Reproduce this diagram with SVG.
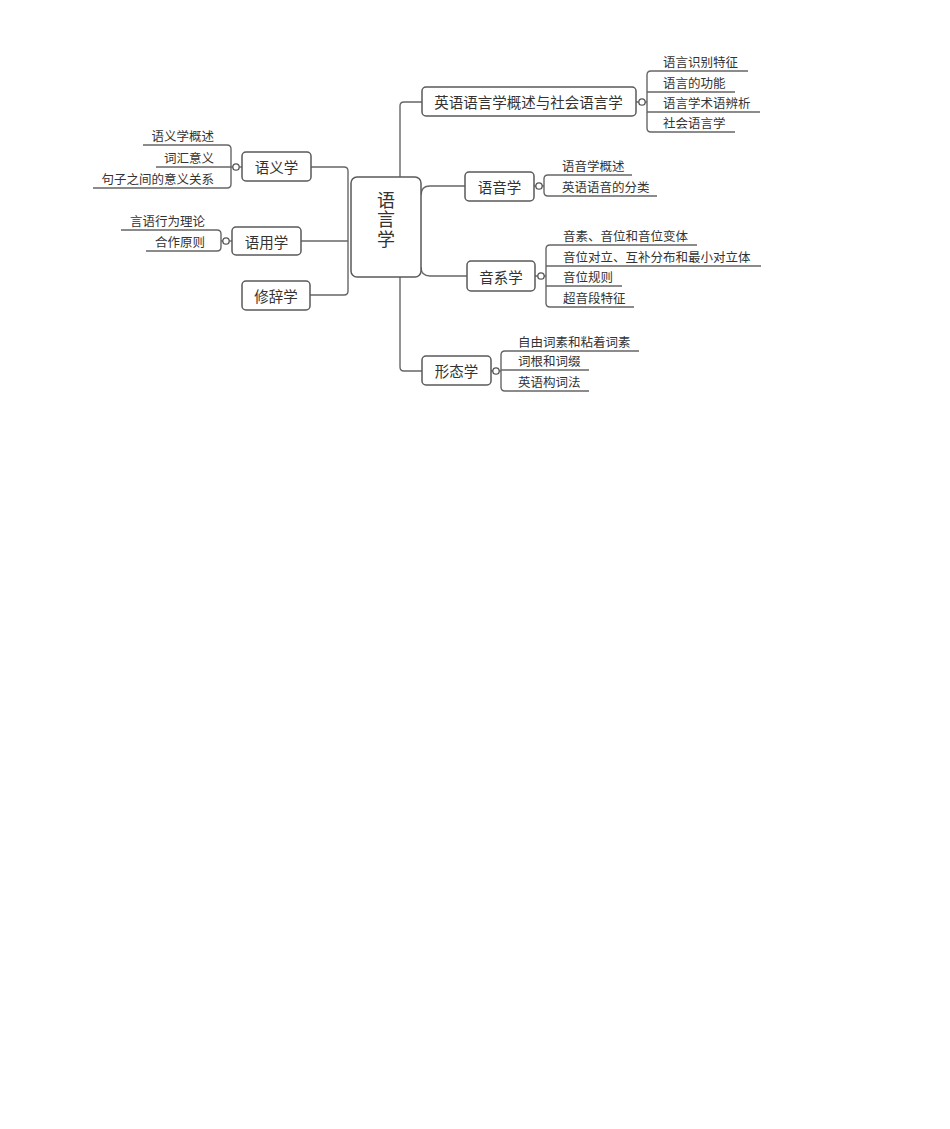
<svg xmlns="http://www.w3.org/2000/svg" width="950" height="1129" viewBox="0 0 950 1129">
<style>
.box{fill:#fff;stroke:#5a5a5a;stroke-width:1.5}
.ln{fill:none;stroke:#666;stroke-width:1.4}
.dot{fill:#fff;stroke:#555;stroke-width:1.3}
.nt{font-family:"Noto Sans CJK SC","Noto Sans CJK JP",sans-serif;font-size:14.5px;fill:#333;text-anchor:middle;dominant-baseline:central}
.ct{font-family:"Noto Sans CJK SC","Noto Sans CJK JP",sans-serif;font-size:18px;fill:#333;text-anchor:middle;writing-mode:vertical-rl;letter-spacing:1.5px}
.lt{font-family:"Noto Sans CJK SC","Noto Sans CJK JP",sans-serif;font-size:12.5px;fill:#333}
.r{text-anchor:end}
</style>
<rect width="950" height="1129" fill="#fff"/>
<g id="connectors">
  <path class="ln" d="M311,167 H344 Q348,167 348,171 V291 Q348,295 344,295 H310"/>
  <path class="ln" d="M301,241 H348"/>
  <path class="ln" d="M422,102 H404 Q400,102 400,106 V367 Q400,371 404,371 H422"/>
  <path class="ln" d="M421,195 Q421,186 430,186 H465"/>
  <path class="ln" d="M421,267 Q421,276 430,276 H467"/>
  <path class="ln" d="M143,145 H227 Q231,145 231,149 V184 Q231,188 227,188 H93"/>
  <path class="ln" d="M156,167 H232.8"/>
  <path class="ln" d="M239.2,167 H242"/>
  <path class="ln" d="M121,230 H217 Q221,230 221,234 V247 Q221,251 217,251 H146"/>
  <path class="ln" d="M221,241 H222.8"/>
  <path class="ln" d="M229.2,241 H232"/>
  <path class="ln" d="M748,71 H651 Q647,71 647,75 V128 Q647,132 651,132 H735"/>
  <path class="ln" d="M647,92 H735 M647,112 H760"/>
  <path class="ln" d="M636,102 H638.8 M645.2,102 H647"/>
  <path class="ln" d="M632,175 H548 Q544,175 544,179 V192 Q544,196 548,196 H657"/>
  <path class="ln" d="M534,186 H535.8 M542.2,186 H544"/>
  <path class="ln" d="M697,245 H550 Q546,245 546,249 V303 Q546,307 550,307 H634"/>
  <path class="ln" d="M546,266 H761 M546,286 H622"/>
  <path class="ln" d="M535,276 H537.8 M544.2,276 H546"/>
  <path class="ln" d="M639,351 H505 Q501,351 501,355 V387 Q501,391 505,391 H589"/>
  <path class="ln" d="M501,370 H589"/>
  <path class="ln" d="M491,371 H492.8 M499.2,371 H501"/>
  <circle class="dot" cx="236" cy="167" r="3.2"/>
  <circle class="dot" cx="226" cy="241" r="3.2"/>
  <circle class="dot" cx="642" cy="102" r="3.2"/>
  <circle class="dot" cx="539" cy="186" r="3.2"/>
  <circle class="dot" cx="541" cy="276" r="3.2"/>
  <circle class="dot" cx="496" cy="371" r="3.2"/>
</g>
<g id="root">
  <rect class="box" x="351" y="177" width="70" height="100" rx="6"/>
  <text class="ct" x="386" y="220">语言学</text>
</g>
<g id="n-overview">
  <rect class="box" x="422" y="87" width="214" height="29" rx="4"/>
  <text class="nt" x="528.5" y="101.5">英语语言学概述与社会语言学</text>
</g>
<g id="n-phonetics">
  <rect class="box" x="465" y="172" width="69" height="29" rx="4"/>
  <text class="nt" x="499.5" y="186.5">语音学</text>
</g>
<g id="n-phonology">
  <rect class="box" x="467" y="261" width="68" height="30" rx="4"/>
  <text class="nt" x="501" y="276">音系学</text>
</g>
<g id="n-morphology">
  <rect class="box" x="422" y="356" width="69" height="29" rx="4"/>
  <text class="nt" x="456.5" y="370.5">形态学</text>
</g>
<g id="n-semantics">
  <rect class="box" x="242" y="152" width="69" height="29" rx="4"/>
  <text class="nt" x="276.5" y="166.5">语义学</text>
</g>
<g id="n-pragmatics">
  <rect class="box" x="232" y="227" width="69" height="28" rx="4"/>
  <text class="nt" x="266.5" y="241">语用学</text>
</g>
<g id="n-rhetoric">
  <rect class="box" x="242" y="281" width="68" height="29" rx="4"/>
  <text class="nt" x="276" y="295.5">修辞学</text>
</g>
<g id="c-semantics">
  <text class="lt r" x="214" y="140.5">语义学概述</text>
  <text class="lt r" x="214" y="162.5">词汇意义</text>
  <text class="lt r" x="214" y="183.5">句子之间的意义关系</text>
</g>
<g id="c-pragmatics">
  <text class="lt r" x="205" y="225.5">言语行为理论</text>
  <text class="lt r" x="205" y="246.5">合作原则</text>
</g>
<g id="c-overview">
  <text class="lt" x="663" y="66.5">语言识别特征</text>
  <text class="lt" x="663" y="87.5">语言的功能</text>
  <text class="lt" x="663" y="107.5">语言学术语辨析</text>
  <text class="lt" x="663" y="127.5">社会语言学</text>
</g>
<g id="c-phonetics">
  <text class="lt" x="562" y="170.5">语音学概述</text>
  <text class="lt" x="562" y="191.5">英语语音的分类</text>
</g>
<g id="c-phonology">
  <text class="lt" x="563" y="240.5">音素、音位和音位变体</text>
  <text class="lt" x="563" y="261.5">音位对立、互补分布和最小对立体</text>
  <text class="lt" x="563" y="281.5">音位规则</text>
  <text class="lt" x="563" y="302.5">超音段特征</text>
</g>
<g id="c-morphology">
  <text class="lt" x="518" y="346.5">自由词素和粘着词素</text>
  <text class="lt" x="518" y="365.5">词根和词缀</text>
  <text class="lt" x="518" y="386.5">英语构词法</text>
</g>
</svg>
